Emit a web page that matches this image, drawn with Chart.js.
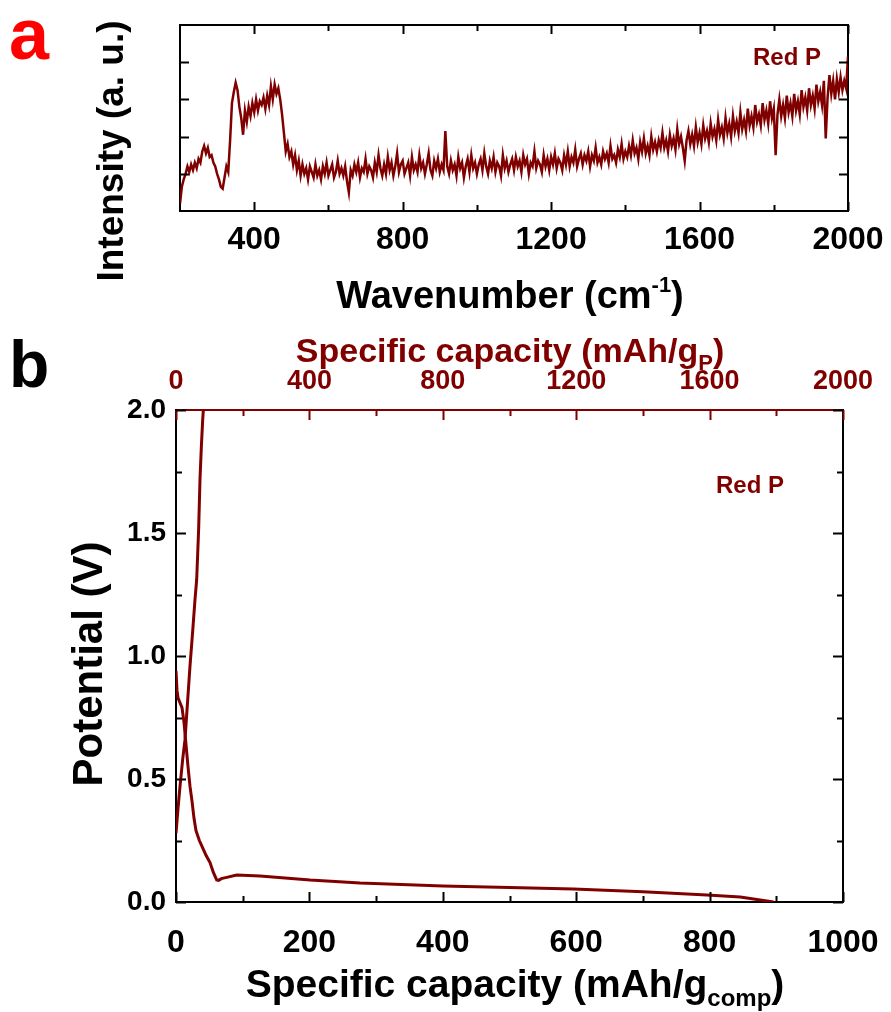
<!DOCTYPE html>
<html>
<head>
<meta charset="utf-8">
<title>Red P - Raman and voltage profile</title>
<script src="https://cdn.jsdelivr.net/npm/chart.js@4.4.1/dist/chart.umd.min.js"></script>
<style>
  html, body { margin:0; padding:0; background:#fff; }
  #wrap { position:relative; width:891px; height:1012px; overflow:hidden; background:#fff; }
  canvas { position:absolute; left:0; }
  #ramanChart { top:0; }
  #capChart { top:320px; }
</style>
</head>
<body>
<div id="wrap">
  <canvas id="ramanChart" width="891" height="320"></canvas>
  <canvas id="capChart" width="891" height="692"></canvas>
</div>
<script>
/* ── (a) Raman spectrum: wavenumber (cm-1) / intensity (a.u.), one row = 100 cm-1 ── */
const RAMAN_WN = [
  200,205,210,215,220,225,230,235,240,245,250,255,260,265,270,275,280,285,290,295,
  300,305,310,315,320,325,330,335,340,345,350,355,360,365,370,375,380,385,390,395,
  400,405,410,415,420,425,430,435,440,445,450,455,460,465,470,475,480,485,490,495,
  500,505,510,515,520,525,530,535,540,545,550,555,560,565,570,575,580,585,590,595,
  600,605,610,615,620,625,630,635,640,645,650,655,660,665,670,675,680,685,690,695,
  700,705,710,715,720,725,730,735,740,745,750,755,760,765,770,775,780,785,790,795,
  800,805,810,815,820,825,830,835,840,845,850,855,860,865,870,875,880,885,890,895,
  900,905,910,915,920,925,930,935,940,945,950,955,960,965,970,975,980,985,990,995,
  1000,1005,1010,1015,1020,1025,1030,1035,1040,1045,1050,1055,1060,1065,1070,1075,1080,1085,1090,1095,
  1100,1105,1110,1115,1120,1125,1130,1135,1140,1145,1150,1155,1160,1165,1170,1175,1180,1185,1190,1195,
  1200,1205,1210,1215,1220,1225,1230,1235,1240,1245,1250,1255,1260,1265,1270,1275,1280,1285,1290,1295,
  1300,1305,1310,1315,1320,1325,1330,1335,1340,1345,1350,1355,1360,1365,1370,1375,1380,1385,1390,1395,
  1400,1405,1410,1415,1420,1425,1430,1435,1440,1445,1450,1455,1460,1465,1470,1475,1480,1485,1490,1495,
  1500,1505,1510,1515,1520,1525,1530,1535,1540,1545,1550,1555,1560,1565,1570,1575,1580,1585,1590,1595,
  1600,1605,1610,1615,1620,1625,1630,1635,1640,1645,1650,1655,1660,1665,1670,1675,1680,1685,1690,1695,
  1700,1705,1710,1715,1720,1725,1730,1735,1740,1745,1750,1755,1760,1765,1770,1775,1780,1785,1790,1795,
  1800,1805,1810,1815,1820,1825,1830,1835,1840,1845,1850,1855,1860,1865,1870,1875,1880,1885,1890,1895,
  1900,1905,1910,1915,1920,1925,1930,1935,1940,1945,1950,1955,1960,1965,1970,1975,1980,1985,1990,1995,
  2000
];
const RAMAN_INT = [
  0.20,0.65,0.85,1.00,1.20,1.05,1.25,1.10,1.30,1.15,1.40,1.30,1.60,1.75,1.55,1.70,1.45,1.50,1.30,1.20,
  1.00,0.85,0.65,0.60,0.90,1.20,1.05,1.90,2.90,3.20,3.45,3.25,2.80,2.50,2.05,2.70,2.40,2.80,2.55,2.90,
  2.65,3.00,2.70,2.95,2.85,3.05,2.75,3.10,2.85,3.35,3.00,3.40,3.15,3.30,3.00,2.60,2.10,1.60,1.80,1.45,
  1.60,1.25,1.50,1.10,1.35,0.95,1.25,1.00,1.15,0.85,1.20,1.05,0.90,1.25,0.95,1.10,0.85,1.20,1.00,1.30,
  0.95,1.10,1.25,0.90,1.05,1.35,1.00,1.15,0.95,1.20,0.80,0.50,1.10,0.95,1.25,1.05,1.30,0.90,1.15,1.05,
  1.40,1.00,1.20,1.10,0.90,1.30,1.05,1.50,1.15,0.95,1.25,1.00,1.45,1.10,1.30,0.95,1.20,1.55,1.05,1.25,
  1.35,1.00,1.15,1.30,0.95,1.45,1.10,1.25,1.05,1.50,1.15,1.30,1.00,1.25,1.55,1.10,0.95,1.35,1.15,1.40,
  1.05,1.25,1.10,2.15,1.20,1.00,1.35,1.10,1.25,0.95,1.45,1.15,1.30,0.90,1.20,1.40,1.05,1.50,1.15,1.30,
  1.00,1.25,1.40,1.10,1.55,1.20,1.00,1.35,1.15,1.45,1.05,1.30,1.20,0.95,1.50,1.15,1.35,1.05,1.25,1.40,
  1.10,1.45,1.20,1.35,1.05,1.50,1.25,1.40,1.00,1.30,1.20,1.60,1.15,1.35,1.25,1.05,1.50,1.20,1.40,1.10,
  1.45,1.25,1.55,1.15,1.40,1.30,1.10,1.50,1.25,1.60,1.20,1.45,1.30,1.65,1.20,1.40,1.55,1.25,1.50,1.35,
  1.60,1.20,1.50,1.35,1.70,1.30,1.45,1.25,1.60,1.40,1.55,1.30,1.75,1.40,1.50,1.30,1.65,1.45,1.80,1.40,
  1.60,1.45,1.75,1.50,1.90,1.55,1.70,1.40,1.85,1.60,1.95,1.55,1.75,1.50,2.00,1.65,1.85,1.60,1.90,1.70,
  2.10,1.70,1.90,1.60,2.05,1.75,1.95,1.65,2.20,1.80,2.00,1.70,1.35,1.90,2.15,1.80,2.05,1.75,2.25,1.85,
  2.10,1.80,2.30,1.95,2.15,1.85,2.35,2.00,2.20,1.90,2.45,2.05,2.25,1.95,2.50,2.10,2.35,2.00,2.55,2.15,
  2.40,2.10,2.65,2.20,2.45,2.15,2.75,2.30,2.55,2.25,2.85,2.40,2.60,2.30,2.90,2.45,2.70,2.35,2.95,2.50,
  2.75,1.50,2.60,3.00,2.55,2.85,2.50,3.10,2.65,2.90,2.55,3.15,2.70,2.95,2.60,3.25,2.80,3.05,2.70,3.30,
  2.85,3.10,2.75,3.40,2.95,3.20,2.85,3.50,1.95,3.05,3.65,3.15,3.50,3.00,3.55,3.20,3.60,3.25,3.50,3.30,
  4.15
];
const RAMAN_TICKS = [400, 800, 1200, 1600, 2000];
const RAMAN_MINOR = [600, 1000, 1400, 1800];
const INT_TICKS   = [1, 2, 3, 4];

/* ── (b) galvanostatic profile, capacity per g composite ── */
const DIS_CAP = [0, 1.5, 3, 6, 9, 12, 15, 18, 21, 24, 27, 30, 35, 40, 45, 51, 56, 61, 64, 68, 76, 91, 126, 201, 276, 400, 500, 596, 700, 796, 846, 896];
const DIS_V   = [0.94, 0.86, 0.83, 0.81, 0.79, 0.73, 0.64, 0.55, 0.47, 0.41, 0.34, 0.29, 0.25, 0.22, 0.19, 0.16, 0.12, 0.09, 0.088, 0.095, 0.10, 0.11, 0.106, 0.089, 0.077, 0.065, 0.059, 0.053, 0.042, 0.028, 0.020, 0.0];
const CHG_CAP = [0, 3, 6, 10, 13.5, 17, 21, 25, 28.5, 31, 34, 36, 38, 40, 41];
const CHG_V   = [0.28, 0.38, 0.47, 0.58, 0.66, 0.80, 0.96, 1.10, 1.23, 1.31, 1.52, 1.72, 1.85, 1.96, 2.0];

const CAP_TICKS  = [0, 200, 400, 600, 800, 1000];
const CAP_MINOR  = [100, 300, 500, 700, 900];
const CAPP_TICKS = [0, 400, 800, 1200, 1600, 2000];
const CAPP_MINOR = [200, 600, 1000, 1400, 1800];
const V_TICKS    = [0, 0.5, 1.0, 1.5, 2.0];
const V_MINOR    = [0.25, 0.75, 1.25, 1.75];

const DARK_RED = '#800000';
const FONT = "'Liberation Sans', Arial, Helvetica, sans-serif";

Chart.defaults.font.family = FONT;
Chart.defaults.font.weight = 'bold';
Chart.defaults.color = '#000';

const toXY = (xs, ys) => xs.map((x, i) => ({ x, y: ys[i] }));
const fixTicks = list => s => { s.ticks = list.map(v => ({ value: v })); };

/* inward tick marks, placed through the chart's own scales */
function tickMarks(sets) {
  return {
    id: 'tickMarks',
    afterDraw(chart) {
      const ctx = chart.ctx, a = chart.chartArea;
      sets.forEach(s => {
        const sc = chart.scales[s.axis];
        ctx.save();
        ctx.strokeStyle = s.color || '#000';
        ctx.lineWidth = 2;
        ctx.beginPath();
        s.values.forEach(v => {
          const p = Math.round(sc.getPixelForValue(v)) + 0.5;
          if (s.side === 'bottom') { ctx.moveTo(p, a.bottom); ctx.lineTo(p, a.bottom - s.len); }
          if (s.side === 'top')    { ctx.moveTo(p, a.top);    ctx.lineTo(p, a.top + s.len); }
          if (s.side === 'left')   { ctx.moveTo(a.left, p);   ctx.lineTo(a.left + s.len, p); }
          if (s.side === 'right')  { ctx.moveTo(a.right, p);  ctx.lineTo(a.right - s.len, p); }
        });
        ctx.stroke();
        ctx.restore();
      });
    }
  };
}

/* titles / annotations with sub- and superscripts */
function textLayer(items) {
  return {
    id: 'textLayer',
    afterDraw(chart) {
      const ctx = chart.ctx;
      items.forEach(it => {
        ctx.save();
        ctx.fillStyle = it.color || '#000';
        ctx.textBaseline = 'alphabetic';
        ctx.textAlign = 'left';
        const parts = it.parts.map(p => {
          const size = p.size || it.size;
          ctx.font = `bold ${size}px ${FONT}`;
          return Object.assign({ size, w: ctx.measureText(p.t).width }, p);
        });
        const total = parts.reduce((s, p) => s + p.w, 0);
        ctx.translate(it.x, it.y);
        if (it.rotate) ctx.rotate(it.rotate);
        let x = it.align === 'left' ? 0 : -total / 2;
        parts.forEach(p => {
          ctx.font = `bold ${p.size}px ${FONT}`;
          ctx.fillText(p.t, x, p.dy || 0);
          x += p.w;
        });
        ctx.restore();
      });
    }
  };
}

function frameAxis(extra) {
  return Object.assign({
    type: 'linear',
    grid: { display: false, drawTicks: false },
    border: { display: true, color: '#000', width: 2 },
    ticks: { display: false }
  }, extra);
}
const flatH = h => s => { s.height = h; s.paddingLeft = 0; s.paddingRight = 0; };
const flatW = w => s => { s.width = w; s.paddingTop = 0; s.paddingBottom = 0; };

/* ── panel a ── */
new Chart(document.getElementById('ramanChart'), {
  type: 'scatter',
  data: {
    datasets: [{
      data: toXY(RAMAN_WN, RAMAN_INT),
      showLine: true, pointRadius: 0,
      borderColor: DARK_RED, borderWidth: 2.5, tension: 0
    }]
  },
  options: {
    responsive: false, animation: false, events: [],
    layout: { padding: 0 },
    plugins: { legend: { display: false }, tooltip: { enabled: false } },
    scales: {
      x: frameAxis({
        position: 'bottom', min: 200, max: 2000,
        afterBuildTicks: fixTicks(RAMAN_TICKS),
        ticks: { display: true, padding: 10, font: { size: 32 }, maxRotation: 0, autoSkip: false, callback: v => String(v) },
        afterFit: flatH(109)
      }),
      x2: frameAxis({ position: 'top', min: 200, max: 2000, afterFit: flatH(25) }),
      y: frameAxis({ position: 'left', min: 0, max: 5, afterFit: flatW(180) }),
      y2: frameAxis({ position: 'right', min: 0, max: 5, afterFit: flatW(43) })
    }
  },
  plugins: [
    tickMarks([
      { axis: 'x',  side: 'bottom', values: RAMAN_TICKS, len: 9 },
      { axis: 'x',  side: 'bottom', values: RAMAN_MINOR, len: 6 },
      { axis: 'x2', side: 'top',    values: RAMAN_TICKS, len: 9 },
      { axis: 'x2', side: 'top',    values: RAMAN_MINOR, len: 6 },
      { axis: 'y',  side: 'left',   values: INT_TICKS,   len: 9 },
      { axis: 'y2', side: 'right',  values: INT_TICKS,   len: 9 }
    ]),
    textLayer([
      { parts: [{ t: 'a' }], x: 9, y: 59, size: 72, color: '#ff0000', align: 'left' },
      { parts: [{ t: 'Intensity (a. u.)' }], x: 123, y: 151, size: 37, rotate: -Math.PI / 2 },
      { parts: [{ t: 'Wavenumber (cm' }, { t: '-1', size: 22, dy: -16 }, { t: ')' }], x: 510, y: 308, size: 38 },
      { parts: [{ t: 'Red P' }], x: 787, y: 65, size: 24, color: DARK_RED }
    ])
  ]
});

/* ── panel b ── */
new Chart(document.getElementById('capChart'), {
  type: 'scatter',
  data: {
    datasets: [
      { data: toXY(DIS_CAP, DIS_V), showLine: true, pointRadius: 0, borderColor: DARK_RED, borderWidth: 3, tension: 0 },
      { data: toXY(CHG_CAP, CHG_V), showLine: true, pointRadius: 0, borderColor: DARK_RED, borderWidth: 3, tension: 0 }
    ]
  },
  options: {
    responsive: false, animation: false, events: [],
    layout: { padding: 0 },
    plugins: { legend: { display: false }, tooltip: { enabled: false } },
    scales: {
      x: frameAxis({
        position: 'bottom', min: 0, max: 1000,
        afterBuildTicks: fixTicks(CAP_TICKS),
        ticks: { display: true, padding: 22, font: { size: 32 }, maxRotation: 0, autoSkip: false, callback: v => String(v) },
        afterFit: flatH(110)
      }),
      x2: frameAxis({
        position: 'top', min: 0, max: 2000,
        border: { display: true, color: DARK_RED, width: 2 },
        afterBuildTicks: fixTicks(CAPP_TICKS),
        ticks: { display: true, padding: 12, color: DARK_RED, font: { size: 27 }, maxRotation: 0, autoSkip: false, callback: v => String(v) },
        afterFit: flatH(90)
      }),
      y: frameAxis({
        position: 'left', min: 0, max: 2,
        afterBuildTicks: fixTicks(V_TICKS),
        ticks: { display: true, padding: 10, font: { size: 28 }, callback: v => v.toFixed(1) },
        afterFit: flatW(176)
      }),
      y2: frameAxis({ position: 'right', min: 0, max: 2, afterFit: flatW(48) })
    }
  },
  plugins: [
    tickMarks([
      { axis: 'x',  side: 'bottom', values: CAP_TICKS,  len: 10 },
      { axis: 'x',  side: 'bottom', values: CAP_MINOR,  len: 6 },
      { axis: 'x2', side: 'top',    values: CAPP_TICKS, len: 10, color: DARK_RED },
      { axis: 'x2', side: 'top',    values: CAPP_MINOR, len: 6,  color: DARK_RED },
      { axis: 'y',  side: 'left',   values: V_TICKS,    len: 10 },
      { axis: 'y',  side: 'left',   values: V_MINOR,    len: 6 },
      { axis: 'y2', side: 'right',  values: V_TICKS,    len: 10 },
      { axis: 'y2', side: 'right',  values: V_MINOR,    len: 6 }
    ]),
    textLayer([
      { parts: [{ t: 'b' }], x: 9, y: 67, size: 66, align: 'left' },
      { parts: [{ t: 'Specific capacity (mAh/g' }, { t: 'P', size: 22, dy: 8 }, { t: ')' }], x: 510, y: 42, size: 34, color: DARK_RED },
      { parts: [{ t: 'Potential (V)' }], x: 102, y: 344, size: 42, rotate: -Math.PI / 2 },
      { parts: [{ t: 'Specific capacity (mAh/g' }, { t: 'comp', size: 24, dy: 9 }, { t: ')' }], x: 515, y: 677, size: 39 },
      { parts: [{ t: 'Red P' }], x: 750, y: 173, size: 24, color: DARK_RED }
    ])
  ]
});
</script>
</body>
</html>
